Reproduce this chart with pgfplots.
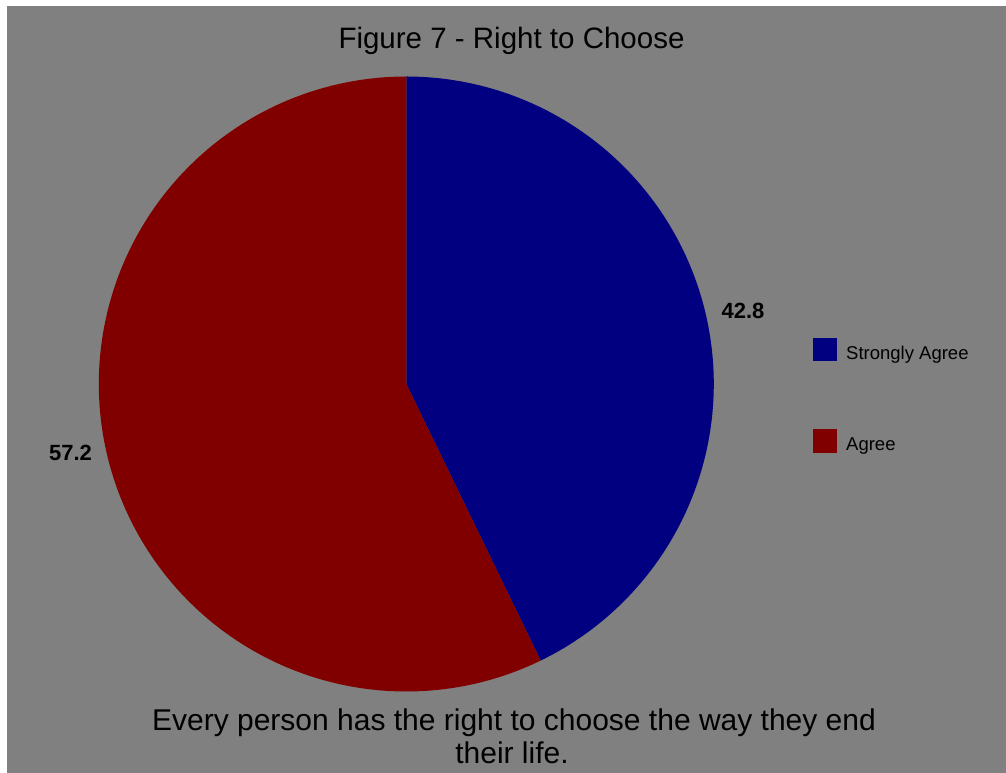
\documentclass[border=0pt]{standalone}
\usepackage{pgfplots}
\pgfplotsset{compat=1.18}
\usepackage{fontspec}
\setmainfont{Liberation Sans}
\definecolor{navyc}{HTML}{000080}
\definecolor{maroonc}{HTML}{800000}
\definecolor{bggray}{HTML}{808080}
% data (percent)
\def\valA{42.8}% Strongly Agree
\def\valB{57.2}% Agree
\begin{document}
\begin{tikzpicture}
\fill[white] (0pt,0pt) rectangle (1006pt,773pt);
\fill[bggray] (7pt,0pt) rectangle (1006pt,767pt);
\begin{axis}[
  scale only axis, width=1006pt, height=773pt,
  xmin=0, xmax=1006, ymin=0, ymax=773,
  axis lines=none, clip=false,
]
\pgfmathsetmacro{\angA}{\valA*3.6}
\pgfmathsetmacro{\angB}{(\valA+\valB)*3.6}
\addplot[draw=none, fill=navyc, domain=0:\angA, samples=200, variable=\t]
  ({406.3+307.5*sin(t)},{389+307.5*cos(t)}) -- (axis cs:406.3,389) -- cycle;
\addplot[draw=none, fill=maroonc, domain=\angA:\angB, samples=250, variable=\t]
  ({406.3+307.5*sin(t)},{389+307.5*cos(t)}) -- (axis cs:406.3,389) -- cycle;

\node[font=\bfseries\fontsize{22}{26}\selectfont, anchor=base] at (axis cs:743,454) {\valA};
\node[font=\bfseries\fontsize{22}{26}\selectfont, anchor=base] at (axis cs:70.5,312) {\valB};

\node[font=\fontsize{29.5}{34}\selectfont, anchor=base] at (axis cs:511.5,724.7) {Figure 7 - Right to Choose};
\node[font=\fontsize{30}{34}\selectfont, anchor=base] at (axis cs:514,42.3) {Every person has the right to choose the way they end};
\node[font=\fontsize{30}{34}\selectfont, anchor=base] at (axis cs:512,9.7) {their life.};

\fill[navyc] (axis cs:813,412) rectangle (axis cs:836.5,435);
\node[font=\fontsize{18.5}{22}\selectfont, anchor=base west, inner sep=0pt] at (axis cs:846,413) {Strongly Agree};
\fill[maroonc] (axis cs:813,320) rectangle (axis cs:836.5,344);
\node[font=\fontsize{18.5}{22}\selectfont, anchor=base west, inner sep=0pt] at (axis cs:846,322) {Agree};
\end{axis}
\end{tikzpicture}
\end{document}
